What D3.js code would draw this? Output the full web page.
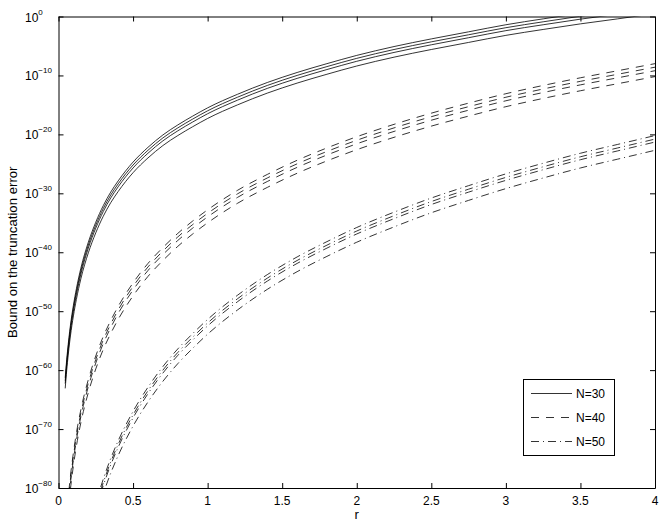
<!DOCTYPE html>
<html>
<head>
<meta charset="utf-8">
<script src="https://cdn.jsdelivr.net/npm/d3@7"></script>
<style>
  html, body { margin: 0; padding: 0; background: #fff; }
  svg { display: block; font-family: "Liberation Sans", Arial, Helvetica, sans-serif; }
</style>
</head>
<body>
<svg id="chart" width="664" height="527"></svg>
<script>
// ---- data (log10 of the bound) ----
const rValues = [0.045, 0.05, 0.06, 0.07, 0.08, 0.1, 0.12, 0.15, 0.2, 0.25, 0.3, 0.35, 0.4, 0.5, 0.6, 0.7, 0.8, 0.9, 1.0, 1.2, 1.4, 1.6, 1.8, 2.0, 2.25, 2.5, 2.75, 3.0, 3.25, 3.5, 3.75, 4.0];

const n30a = [-61.3, -59.7, -56.9, -54.5, -52.4, -49.0, -46.2, -42.7, -38.3, -34.9, -32.1, -29.8, -27.9, -24.7, -22.2, -20.1, -18.4, -16.9, -15.5, -13.2, -11.2, -9.5, -8.0, -6.6, -5.1, -3.8, -2.6, -1.4, -0.4, 0.55, 1.4, 2.3];
const n30b = [-61.8, -60.2, -57.4, -55.0, -52.9, -49.5, -46.7, -43.2, -38.8, -35.4, -32.6, -30.3, -28.4, -25.2, -22.7, -20.6, -18.9, -17.4, -16.0, -13.7, -11.7, -10.0, -8.5, -7.1, -5.6, -4.3, -3.1, -1.9, -0.9, 0.05, 0.9, 1.8];
const n30c = [-62.3, -60.7, -57.9, -55.5, -53.4, -50.0, -47.2, -43.7, -39.3, -35.9, -33.1, -30.8, -28.9, -25.7, -23.2, -21.1, -19.4, -17.9, -16.5, -14.2, -12.2, -10.5, -9.0, -7.6, -6.1, -4.8, -3.6, -2.4, -1.4, -0.45, 0.4, 1.3];
const n30d = [-63.1, -61.5, -58.7, -56.3, -54.2, -50.8, -48.0, -44.5, -40.1, -36.7, -33.9, -31.6, -29.7, -26.5, -24.0, -21.9, -20.2, -18.7, -17.3, -15.0, -13.0, -11.3, -9.8, -8.4, -6.9, -5.6, -4.4, -3.2, -2.2, -1.25, -0.4, 0.5];

const n40a = [null, null, -83.1, -80.4, -78.0, -74.0, -70.7, -66.7, -61.6, -57.6, -54.3, -51.6, -49.2, -45.2, -41.9, -39.2, -36.8, -34.7, -32.8, -29.5, -26.8, -24.4, -22.3, -20.4, -18.3, -16.4, -14.7, -13.1, -11.7, -10.4, -9.2, -8.0];
const n40b = [null, null, -83.7, -81.0, -78.6, -74.6, -71.3, -67.3, -62.2, -58.2, -54.9, -52.2, -49.8, -45.8, -42.5, -39.8, -37.4, -35.3, -33.4, -30.1, -27.4, -25.0, -22.9, -21.0, -18.9, -17.0, -15.3, -13.7, -12.3, -11.0, -9.8, -8.6];
const n40c = [null, null, -84.3, -81.6, -79.2, -75.2, -71.9, -67.9, -62.8, -58.8, -55.5, -52.8, -50.4, -46.4, -43.1, -40.4, -38.0, -35.9, -34.0, -30.7, -28.0, -25.6, -23.5, -21.6, -19.5, -17.6, -15.9, -14.3, -12.9, -11.6, -10.4, -9.2];
const n40d = [null, null, -85.3, -82.6, -80.2, -76.2, -72.9, -68.9, -63.8, -59.8, -56.5, -53.8, -51.4, -47.4, -44.1, -41.4, -39.0, -36.9, -35.0, -31.7, -29.0, -26.6, -24.5, -22.6, -20.5, -18.6, -16.9, -15.3, -13.9, -12.6, -11.4, -10.2];

const n50a = [null, null, null, null, null, null, null, null, null, -82.6, -78.5, -75.0, -72.0, -67.0, -62.9, -59.4, -56.4, -53.8, -51.4, -47.3, -43.8, -40.8, -38.2, -35.8, -33.2, -30.8, -28.7, -26.7, -24.9, -23.2, -21.7, -20.2];
const n50b = [null, null, null, null, null, null, null, null, null, -83.2, -79.1, -75.6, -72.6, -67.6, -63.5, -60.0, -57.0, -54.4, -52.0, -47.9, -44.4, -41.4, -38.8, -36.4, -33.8, -31.4, -29.3, -27.3, -25.5, -23.8, -22.3, -20.8];
const n50c = [null, null, null, null, null, null, null, null, null, -83.7, -79.6, -76.1, -73.1, -68.1, -64.0, -60.5, -57.5, -54.9, -52.5, -48.4, -44.9, -41.9, -39.3, -36.9, -34.3, -31.9, -29.8, -27.8, -26.0, -24.3, -22.8, -21.3];
const n50d = [null, null, null, null, null, null, null, null, null, -85.1, -81.0, -77.5, -74.5, -69.5, -65.4, -61.9, -58.9, -56.3, -53.9, -49.8, -46.3, -43.3, -40.7, -38.3, -35.7, -33.3, -31.2, -29.2, -27.4, -25.7, -24.2, -22.7];

const legendLabels = ["N=30", "N=40", "N=50"];
const xTicks = [0, 0.5, 1, 1.5, 2, 2.5, 3, 3.5, 4];
const xTickLabels = ["0", "0.5", "1", "1.5", "2", "2.5", "3", "3.5", "4"];
const yTickExponents = [0, -10, -20, -30, -40, -50, -60, -70, -80];
const xLabel = "r";
const yLabel = "Bound on the truncation error";

// ---- layout ----
const svg = d3.select("#chart");
const L = 58.5, R = 655, T = 16.5, B = 488;
const x = d3.scaleLinear().domain([0, 4]).range([L, R]);
const y = d3.scaleLog().domain([1e-80, 1]).range([B, T]);

svg.append("rect").attr("width", 664).attr("height", 527).attr("fill", "#fff");

const groups = [
  { series: [n30a, n30b, n30c, n30d], dash: null },
  { series: [n40a, n40b, n40c, n40d], dash: "8,7" },
  { series: [n50a, n50b, n50c, n50d], dash: "8,4,1,4" }
];

svg.append("clipPath").attr("id", "plotclip")
  .append("rect").attr("x", L).attr("y", T).attr("width", R - L).attr("height", B - T);

const line = d3.line()
  .defined(d => d.v !== null)
  .x(d => x(d.r))
  .y(d => y(Math.pow(10, d.v)))
  .curve(d3.curveMonotoneX);

const plot = svg.append("g").attr("clip-path", "url(#plotclip)");
groups.forEach(g => {
  g.series.forEach(s => {
    const pts = rValues.map((r, i) => ({ r: r, v: s[i] }));
    plot.append("path")
      .datum(pts)
      .attr("d", line)
      .attr("fill", "none")
      .attr("stroke", "#000")
      .attr("stroke-width", 0.8)
      .attr("stroke-dasharray", g.dash);
  });
});

// ---- axes ----
const yTickVals = yTickExponents.map(e => Math.pow(10, e));
const tickLen = 5;

const axB = svg.append("g").attr("transform", `translate(0,${B})`)
  .call(d3.axisBottom(x).tickValues(xTicks).tickSizeInner(-tickLen).tickSizeOuter(0).tickFormat(""));
const axT = svg.append("g").attr("transform", `translate(0,${T})`)
  .call(d3.axisTop(x).tickValues(xTicks).tickSizeInner(-tickLen).tickSizeOuter(0).tickFormat(""));
const axL = svg.append("g").attr("transform", `translate(${L},0)`)
  .call(d3.axisLeft(y).tickValues(yTickVals).tickSizeInner(-tickLen).tickSizeOuter(0).tickFormat(""));
const axR = svg.append("g").attr("transform", `translate(${R},0)`)
  .call(d3.axisRight(y).tickValues(yTickVals).tickSizeInner(-tickLen).tickSizeOuter(0).tickFormat(""));
[axB, axT, axL, axR].forEach(a => {
  a.selectAll(".domain").attr("stroke", "#000").attr("stroke-width", 1);
  a.selectAll(".tick line").attr("stroke", "#000").attr("stroke-width", 1);
});

// x tick labels
svg.append("g").selectAll("text").data(xTicks).join("text")
  .attr("x", d => x(d))
  .attr("y", 505)
  .attr("text-anchor", "middle")
  .attr("font-size", 12)
  .attr("fill", "#000")
  .text((d, i) => xTickLabels[i]);

// y tick labels 10^e
const yl = svg.append("g").selectAll("text").data(yTickExponents).join("text")
  .attr("x", 25)
  .attr("y", d => y(Math.pow(10, d)) + 5)
  .attr("font-size", 12)
  .attr("fill", "#000");
yl.append("tspan").text("10");
yl.append("tspan").attr("font-size", 8).attr("dy", -7).text(d => d === 0 ? "0" : "\u2212" + Math.abs(d));

// axis labels
svg.append("text")
  .attr("x", (L + R) / 2).attr("y", 519)
  .attr("text-anchor", "middle").attr("font-size", 13.2).attr("fill", "#000")
  .text(xLabel);
svg.append("text")
  .attr("transform", `translate(16.5,${(T + B) / 2}) rotate(-90)`)
  .attr("text-anchor", "middle").attr("font-size", 13.2).attr("fill", "#000")
  .text(yLabel);

// ---- legend ----
const lg = svg.append("g");
lg.append("rect").attr("x", 523.5).attr("y", 379.5).attr("width", 91).attr("height", 76)
  .attr("fill", "#fff").attr("stroke", "#000").attr("stroke-width", 1);
const rowY = [393.5, 417.5, 441.5];
legendLabels.forEach((lab, i) => {
  lg.append("line").attr("x1", 531).attr("x2", 572).attr("y1", rowY[i]).attr("y2", rowY[i])
    .attr("stroke", "#000").attr("stroke-width", 0.8).attr("stroke-dasharray", groups[i].dash);
  lg.append("text").attr("x", 576).attr("y", rowY[i] + 4.3).attr("font-size", 12).attr("fill", "#000").text(lab);
});
</script>
</body>
</html>
